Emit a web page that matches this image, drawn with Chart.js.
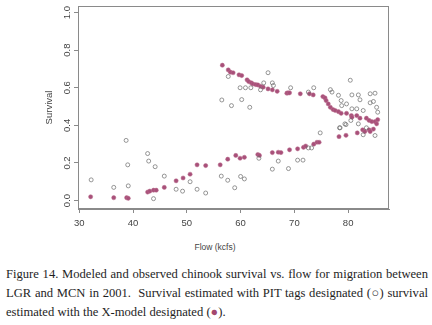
<!DOCTYPE html>
<html>
<head>
<meta charset="utf-8">
<script src="https://cdn.jsdelivr.net/npm/chart.js@4.4.1/dist/chart.umd.min.js"></script>
<style>
  html, body { margin: 0; padding: 0; background: #ffffff; }
  #wrap { position: relative; width: 432px; height: 325px; overflow: hidden; background: #fff; }
  #c { position: absolute; left: 0; top: 0; }
  #xtitle { position: absolute; left: 160px; width: 110px; top: 242px; text-align: center;
            font-family: "Liberation Sans", Arial, sans-serif; font-size: 8.5px; color: #444; }
  #caption { position: absolute; left: 6px; top: 265px; width: 422px;
             font-family: "Liberation Serif", "Times New Roman", serif; font-size: 12.6px; color: #1e1e1e; }
  #caption div { height: 19px; line-height: 19px; white-space: nowrap; }
  #caption .j { text-align: justify; text-align-last: justify; }
  .pink { color: #a3486e; }
</style>
</head>
<body>
<div id="wrap">
  <canvas id="c" width="432" height="232"></canvas>
  <div id="xtitle">Flow (kcfs)</div>
  <div id="caption">
    <div class="j">Figure 14. Modeled and observed chinook survival vs. flow for migration between</div>
    <div class="j">LGR and MCN in 2001.&nbsp; Survival estimated with PIT tags designated (○) survival</div>
    <div>estimated with the X-model designated (<span class="pink">●</span>).</div>
  </div>
</div>
<script>
// X-model estimates (filled points)
const modelFlow = [32.1,36.4,38.8,39.1,42.7,43.1,43.8,44.3,45.8,48.0,49.3,50.6,51.9,53.5,56.2,57.6,59.1,59.9,60.7,63.2,63.5,65.9,67.0,67.5,69.1,70.6,71.7,72.1,73.6,74.2,74.6,78.3,79.6,81.7,82.7,83.1,83.9,84.1,84.7,
  56.6,57.7,58.1,58.6,59.7,60.2,61.2,61.5,62.0,62.3,62.8,63.2,63.7,64.2,65.1,65.9,66.8,68.6,68.8,69.1,71.1,72.8,73.5,75.3,75.7,75.9,76.3,76.7,77.2,77.6,78.2,78.7,79.7,80.6,80.7,81.6,82.2,83.4,83.9,84.4,85.0,85.3,85.5];
const modelSurv = [0.02,0.015,0.015,0.012,0.045,0.05,0.055,0.055,0.07,0.105,0.12,0.14,0.19,0.186,0.19,0.22,0.24,0.225,0.23,0.245,0.24,0.255,0.257,0.255,0.27,0.275,0.283,0.29,0.30,0.31,0.31,0.34,0.347,0.36,0.376,0.367,0.376,0.367,0.38,
  0.72,0.695,0.683,0.68,0.669,0.665,0.642,0.633,0.626,0.62,0.617,0.615,0.608,0.603,0.594,0.589,0.581,0.571,0.573,0.573,0.568,0.568,0.562,0.553,0.546,0.532,0.514,0.496,0.484,0.479,0.473,0.464,0.464,0.452,0.443,0.452,0.438,0.438,0.426,0.42,0.42,0.408,0.43];

// PIT-tag estimates (open circles)
const pitFlow = [32.2,36.4,38.7,39.0,39.1,42.7,42.9,43.8,44.1,45.8,48.0,49.2,50.6,51.9,53.5,56.4,57.6,58.9,60.0,60.7,63.4,65.9,67.0,68.9,70.6,71.6,72.6,73.2,74.8,82.8,85.0,78.4,79.6,
  56.5,58.3,60.2,61.7,57.7,65.1,59.9,60.9,61.9,64.3,65.9,66.1,63.7,69.3,73.6,72.6,76.7,77.0,78.2,78.7,78.8,80.4,80.7,81.9,82.2,84.1,85.0,84.1,84.7,85.3,85.5,79.7,81.6,80.7,80.5,79.4,82.8,83.4,81.9,78.5];
const pitSurv = [0.11,0.07,0.32,0.19,0.078,0.25,0.21,0.01,0.18,0.13,0.06,0.05,0.10,0.06,0.04,0.13,0.108,0.068,0.128,0.115,0.225,0.167,0.21,0.17,0.215,0.215,0.28,0.28,0.36,0.35,0.346,0.387,0.404,
  0.535,0.505,0.537,0.496,0.66,0.68,0.60,0.60,0.60,0.626,0.626,0.612,0.589,0.60,0.60,0.577,0.59,0.577,0.56,0.532,0.505,0.64,0.562,0.562,0.536,0.568,0.571,0.52,0.527,0.496,0.47,0.514,0.488,0.488,0.426,0.408,0.479,0.387,0.408,0.387];

const xTickValues = [30, 40, 50, 60, 70, 80];
const yTickValues = [0.0, 0.2, 0.4, 0.6, 0.8, 1.0];

const toPoints = (xs, ys) => xs.map((x, i) => ({ x: x, y: ys[i] }));

const boxPlugin = {
  id: 'box',
  afterDraw(chart) {
    const a = chart.chartArea, ctx = chart.ctx;
    ctx.save();
    ctx.strokeStyle = '#8a8a8a';
    ctx.lineWidth = 1;
    ctx.strokeRect(a.left + 0.5, a.top + 0.5, a.right - a.left - 1, a.bottom - a.top - 1);
    ctx.restore();
  }
};

new Chart(document.getElementById('c'), {
  type: 'scatter',
  data: {
    datasets: [
      {
        label: 'PIT tags',
        data: toPoints(pitFlow, pitSurv),
        pointStyle: 'circle',
        pointRadius: 2,
        backgroundColor: 'rgba(0,0,0,0)',
        borderColor: '#6a6a6a',
        borderWidth: 0.7
      },
      {
        label: 'X-model',
        data: toPoints(modelFlow, modelSurv),
        pointStyle: 'circle',
        pointRadius: 2.1,
        backgroundColor: '#a8507a',
        borderColor: '#b86a8a',
        borderWidth: 0.5
      }
    ]
  },
  options: {
    responsive: false,
    animation: false,
    layout: { padding: { left: 0, right: 43, top: 6, bottom: 0 } },
    plugins: { legend: { display: false }, tooltip: { enabled: false } },
    scales: {
      x: {
        type: 'linear',
        min: 29.75,
        max: 87.6,
        afterBuildTicks: s => { s.ticks = xTickValues.map(v => ({ value: v })); },
        afterFit: s => { s.height = 23; },
        grid: { display: true, drawOnChartArea: false, drawTicks: true, tickLength: 4, color: '#8a8a8a' },
        border: { display: true, color: '#8a8a8a' },
        ticks: { color: '#444', padding: 5, font: { family: 'Liberation Sans', size: 9.5 },
                 maxRotation: 0, minRotation: 0, callback: v => String(v) }
      },
      y: {
        type: 'linear',
        min: -0.045,
        max: 1.035,
        afterBuildTicks: s => { s.ticks = yTickValues.map(v => ({ value: v })); },
        afterFit: s => { s.width = 78; },
        grid: { display: true, drawOnChartArea: false, drawTicks: true, tickLength: 4, color: '#8a8a8a' },
        border: { display: true, color: '#8a8a8a' },
        title: { display: true, text: 'Survival', color: '#444',
                 font: { family: 'Liberation Sans', size: 9.5 }, padding: { top: 44, bottom: 0 } },
        ticks: { color: '#444', padding: 0, crossAlign: 'center', minRotation: 90, maxRotation: 90,
                 font: { family: 'Liberation Sans', size: 9.5 }, callback: v => Number(v).toFixed(1) }
      }
    }
  },
  plugins: [boxPlugin]
});
</script>
</body>
</html>
